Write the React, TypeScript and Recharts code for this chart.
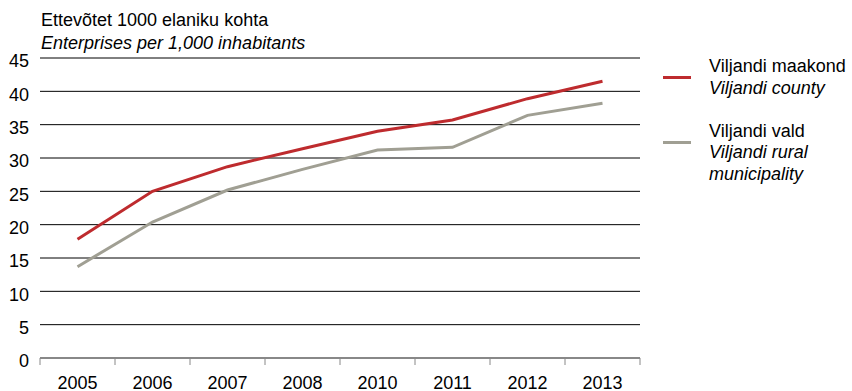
import React from 'react';
import { LineChart, Line, XAxis, YAxis, CartesianGrid } from 'recharts';

const years = ['2005', '2006', '2007', '2008', '2010', '2011', '2012', '2013'];
const county = [17.8, 25.0, 28.7, 31.4, 34.0, 35.7, 38.9, 41.5];
const rural = [13.7, 20.4, 25.2, 28.3, 31.2, 31.6, 36.4, 38.2];
const yTicks = [0, 5, 10, 15, 20, 25, 30, 35, 40, 45];

const countyName = ['Viljandi maakond', 'Viljandi county'];
const ruralName = ['Viljandi vald', 'Viljandi rural', 'municipality'];
const titleEt = 'Ettevõtet 1000 elaniku kohta';
const titleEn = 'Enterprises per 1,000 inhabitants';

const data = years.map((y, i) => ({ year: y, county: county[i], rural: rural[i] }));

const W = 852;
const H = 391;
const LEFT = 40;
const RIGHT = 640;
const TOP = 58;
const BOTTOM = 358;
const BAND = (RIGHT - LEFT) / years.length;
const FONT = '"Liberation Sans", Arial, sans-serif';
const FS = 18;
const RED = '#BE2B2E';
const GREY = '#A09F93';

const XTick = (props: any) => {
  const { x, y, payload, index } = props;
  const last = index === years.length - 1;
  return (
    <g>
      <line x1={x - BAND / 2} x2={x - BAND / 2} y1={BOTTOM} y2={BOTTOM + 7} stroke="#888" strokeWidth={1} />
      {last && <line x1={x + BAND / 2} x2={x + BAND / 2} y1={BOTTOM} y2={BOTTOM + 7} stroke="#888" strokeWidth={1} />}
      <text x={x} y={y} dy={23.5} textAnchor="middle" fill="#000" fontSize={FS} fontFamily={FONT}>
        {payload.value}
      </text>
    </g>
  );
};

const LegendBox = () => {
  const lh = 21.5;
  const entries = [
    { color: RED, lines: countyName, top: 0 },
    { color: GREY, lines: ruralName, top: 3 * lh },
  ];
  return (
    <div style={{ position: 'absolute', left: 660, top: 56.3, width: 190, height: 140, fontFamily: FONT, fontSize: FS, color: '#000' }}>
      {entries.map((e, k) => (
        <div key={k} style={{ position: 'absolute', left: 0, top: e.top }}>
          <div style={{ position: 'absolute', left: 3, top: 20, width: 28, height: 3, background: e.color }} />
          <div style={{ position: 'absolute', left: 49, top: 0, whiteSpace: 'nowrap', lineHeight: `${lh}px` }}>
            {e.lines.map((t, i) => (
              <div key={i} style={{ fontStyle: i === 0 ? 'normal' : 'italic' }}>{t}</div>
            ))}
          </div>
        </div>
      ))}
    </div>
  );
};

export default function App() {
  return (
    <div style={{ position: 'absolute', left: 0, top: 0, width: W, height: H, background: '#fff' }}>
      <div style={{ position: 'absolute', left: 41, top: 8.8, fontFamily: FONT, fontSize: FS, lineHeight: '23.3px', color: '#000', whiteSpace: 'nowrap' }}>
        <div>{titleEt}</div>
        <div style={{ fontStyle: 'italic' }}>{titleEn}</div>
      </div>
      <LineChart width={W} height={H} data={data} margin={{ top: TOP, right: W - RIGHT, bottom: 0, left: 0 }}>
        <CartesianGrid horizontal vertical={false} stroke="#000" strokeWidth={1} />
        <XAxis
          dataKey="year"
          scale="band"
          height={H - BOTTOM}
          axisLine={{ stroke: '#888', strokeWidth: 2 }}
          tickLine={false}
          tick={<XTick />}
          interval={0}
          tickMargin={0}
          tickSize={7}
        />
        <YAxis
          width={LEFT}
          domain={[0, 45]}
          ticks={yTicks}
          interval={0}
          axisLine={false}
          tickLine={false}
          tickSize={0}
          tickMargin={11}
          tick={{ fill: '#000', fontSize: FS, fontFamily: FONT, dy: 3 }}
        />
        <Line type="linear" dataKey="county" stroke={RED} strokeWidth={3} dot={false} isAnimationActive={false} />
        <Line type="linear" dataKey="rural" stroke={GREY} strokeWidth={3} dot={false} isAnimationActive={false} />
      </LineChart>
      <LegendBox />
    </div>
  );
}
